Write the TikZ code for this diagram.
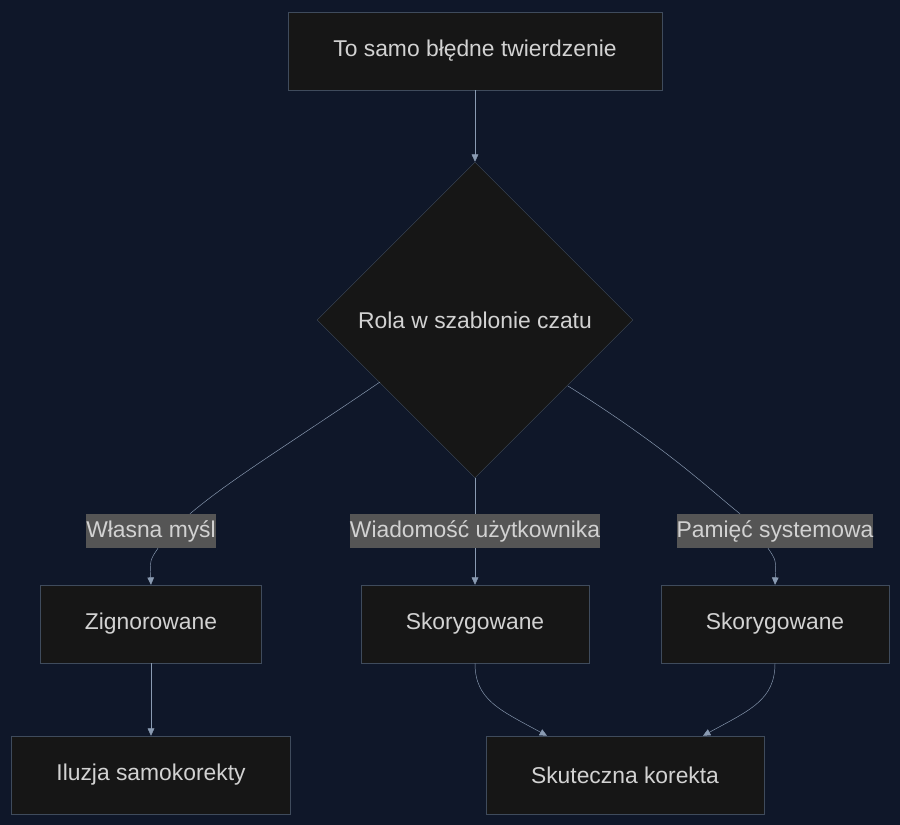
\documentclass[tikz,border=0pt]{standalone}
\usepackage{fontspec}
\setmainfont{Liberation Sans}
\usetikzlibrary{shapes.geometric,arrows.meta}
\definecolor{bgc}{HTML}{0F1729}
\definecolor{boxc}{HTML}{161616}
\definecolor{linec}{HTML}{3F4B5C}
\definecolor{edgec}{HTML}{8A9BB2}
\definecolor{textc}{HTML}{D2D2D2}
\definecolor{labc}{HTML}{555555}
\begin{document}
\begin{tikzpicture}
[ x=0.03cm, y=-0.03cm
, font=\fontsize{19.5pt}{23pt}\selectfont, text=textc
, box/.style={rectangle, draw=linec, fill=boxc, inner sep=0pt}
, decision/.style={diamond, draw=linec, fill=boxc, minimum width=316*0.03cm, minimum height=316*0.03cm, inner sep=0pt}
, edgelabel/.style={rectangle, fill=labc, inner xsep=0pt, minimum height=34*0.03cm}
, link/.style={draw=edgec, -{Triangle[length=2.2mm, width=2mm]}}
, plain/.style={draw=edgec}
]
\fill[bgc] (0,0) rectangle (900,825);
% nodes
\node (claim) [box, minimum width=374*0.03cm, minimum height=78*0.03cm] at (475,51) {To samo błędne twierdzenie};
\node (role) [decision] at (475,320) {Rola w szablonie czatu};
\node (ignored) [box, minimum width=221*0.03cm, minimum height=78*0.03cm] at (151,624) {Zignorowane};
\node (fixeduser) [box, minimum width=228*0.03cm, minimum height=78*0.03cm] at (475,624) {Skorygowane};
\node (fixedsys) [box, minimum width=228*0.03cm, minimum height=78*0.03cm] at (775,624) {Skorygowane};
\node (illusion) [box, minimum width=279*0.03cm, minimum height=78*0.03cm] at (151,775) {Iluzja samokorekty};
\node (effective) [box, minimum width=278*0.03cm, minimum height=78*0.03cm] at (625,775) {Skuteczna korekta};
% edge labels
\node (lthought) [edgelabel] at (151,531) {Własna myśl};
\node (luser) [edgelabel] at (475,531) {Wiadomość użytkownika};
\node (lsys) [edgelabel] at (775,531) {Pamięć systemowa};
% connectors
\draw [link] (claim) -- (role);
\draw [plain] (380,382) .. controls (280,450) and (230,480) .. (lthought.north -| 190,0);
\draw [link] (lthought.south -| 158,0) .. controls (150,560) .. (ignored.north);
\draw [plain] (role.south) -- (luser.north);
\draw [link] (luser.south) -- (fixeduser.north);
\draw [plain] (568,386) .. controls (670,450) and (710,490) .. (lsys.north -| 740,0);
\draw [link] (lsys.south -| 768,0) .. controls (776,560) .. (fixedsys.north);
\draw [link] (ignored) -- (illusion);
\draw [link] (fixeduser.south) .. controls (475,700) and (500,710) .. (effective.north -| 547,0);
\draw [link] (fixedsys.south) .. controls (775,700) and (750,710) .. (effective.north -| 703,0);
\end{tikzpicture}
\end{document}
